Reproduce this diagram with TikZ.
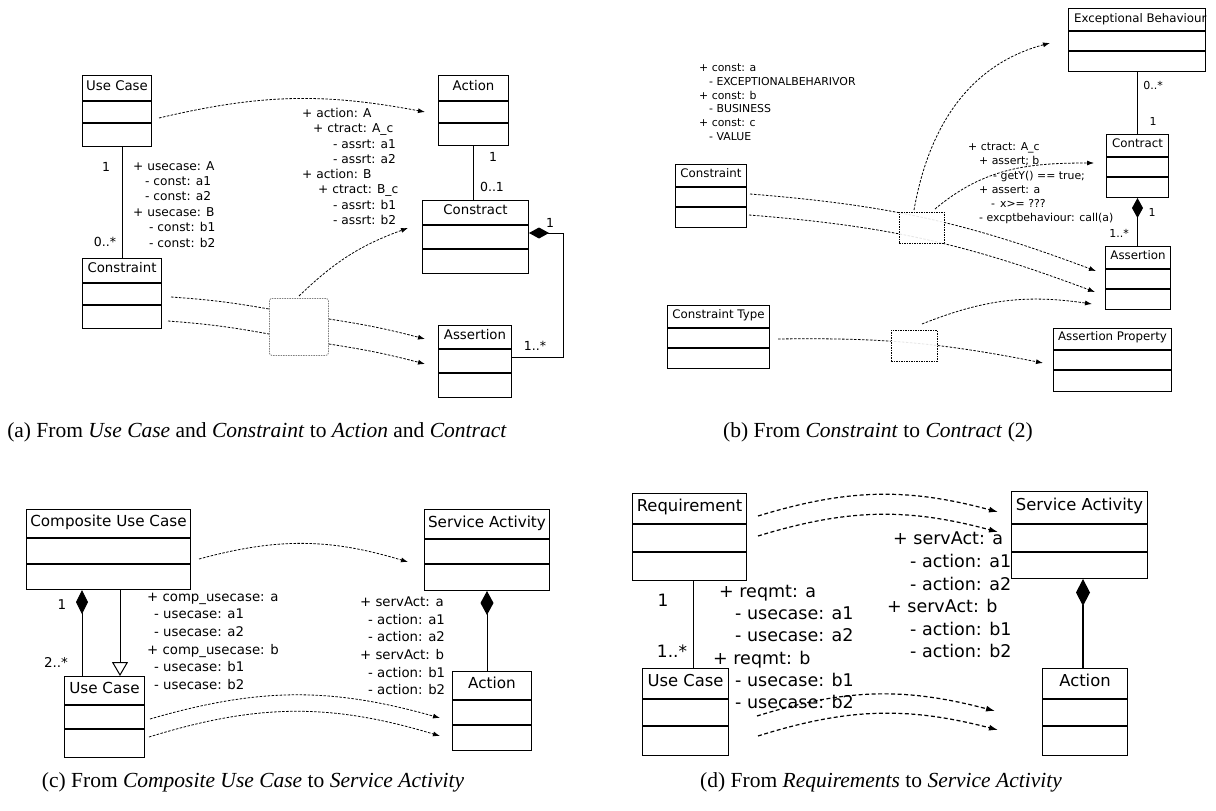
\documentclass[tikz,border=0pt]{standalone}
\usepackage{fontspec}
\setmainfont{DejaVu Sans}
\newfontfamily\capfont{Liberation Serif}
\usetikzlibrary{arrows.meta}

% UML class: name, top-left corner, width, height, first rule, second rule, title size, title, rule width
\newcommand{\umlclass}[9]{%
  \node[umlbox, minimum width=#3, minimum height=#4, anchor=north west] (#1) at (#2) {};
  \draw[line width=#9] ([yshift=-#5]#1.north west) -- ([yshift=-#5]#1.north east);
  \draw[line width=#9] ([yshift=-#6]#1.north west) -- ([yshift=-#6]#1.north east);
  \node[umltitle, font=\fontsize{#7}{#7}\selectfont] (#1-title) at ([yshift=-#5/2-0.365*#7+2.5]#1.north) {#8};
}

\begin{document}
\begin{tikzpicture}[x=1pt, y=-1pt,
    umlbox/.style={draw, line width=1pt, inner sep=0pt},
    umltitle/.style={anchor=base, inner sep=0pt},
    attr/.style={anchor=north west, align=left, inner sep=0pt},
    mult/.style={inner sep=0pt},
    link/.style={dash pattern=on 2.5pt off 1.5pt, line width=0.8pt},
    flow/.style={link, -{Latex[length=7pt,width=5pt]}},
    flowd/.style={dash pattern=on 4pt off 2.5pt, line width=1.2pt, -{Latex[length=9pt,width=6pt]}},
    joinbox/.style={draw=gray, dash pattern=on 1.5pt off 1pt, line width=0.8pt, rounded corners=2.5pt, fill=white, inner sep=0pt, anchor=north west},
    passbox/.style={draw, dash pattern=on 1.5pt off 1pt, line width=0.8pt, fill=white, fill opacity=0.9, inner sep=0pt, anchor=north west},
    compo/.style={line width=1pt, {Diamond[length=20pt,width=11pt]}-},
    gen/.style={line width=1pt, -{Triangle[open,length=14pt,width=16pt]}},
    caption/.style={font=\capfont\fontsize{21.5}{24}\selectfont, inner sep=0pt}
]
    \useasboundingbox[fill=white] (0,0) rectangle (1216,811);

    % (a) Use Case and Constraint to Action and Contract
    \umlclass{a-uc}{82,75}{69}{71}{26}{48}{13.3}{Use Case}{1.8pt}
    \umlclass{a-con}{82,258}{79}{70}{25}{47}{13.3}{Constraint}{1.8pt}
    \umlclass{a-act}{438,75}{70}{70}{26}{48}{13.3}{Action}{1.8pt}
    \umlclass{a-ctr}{422,200}{106}{73}{25}{49}{13.3}{Constract}{1.8pt}
    \umlclass{a-as}{438,325}{73}{72}{24}{48}{13.3}{Assertion}{1.8pt}

    \draw[line width=1pt] (a-con.north) -- (a-con.north |- a-uc.south);
    \draw[line width=1pt] (a-act.south) -- (a-act.south |- a-ctr.north);
    \coordinate (a-bend) at (563,233);
    \draw[compo] (a-bend -| a-ctr.east) -- (a-bend) |- ([yshift=4]a-as.east);

    \node[mult, font=\fontsize{12.5}{12.5}\selectfont] (a-m1) at (106,167) {1};
    \node[mult, font=\fontsize{12.5}{12.5}\selectfont] (a-m2) at (105,242) {0..*};
    \node[mult, font=\fontsize{12.5}{12.5}\selectfont] (a-m3) at (493,157) {1};
    \node[mult, font=\fontsize{12.5}{12.5}\selectfont] (a-m4) at (492,187) {0..1};
    \node[mult, font=\fontsize{12.5}{12.5}\selectfont] (a-m5) at (550,223) {1};
    \node[mult, font=\fontsize{12.5}{12.5}\selectfont] (a-m6) at (535,346) {1..*};

    \node[attr, font=\fontsize{12.2}{15.4}\selectfont] (a-map-uc) at (133,161)
        {+ usecase: A\\\hspace*{12pt}- const: a1\\\hspace*{12pt}- const: a2\\+ usecase: B\\\hspace*{16pt}- const: b1\\\hspace*{16pt}- const: b2};
    \node[attr, font=\fontsize{12.2}{15.3}\selectfont] (a-map-act) at (302,108)
        {+ action: A\\\hspace*{11pt}+ ctract: A\_c\\\hspace*{31pt}- assrt: a1\\\hspace*{31pt}- assrt: a2\\+ action: B\\\hspace*{16pt}+ ctract: B\_c\\\hspace*{31pt}- assrt: b1\\\hspace*{31pt}- assrt: b2};

    \node[joinbox, minimum width=59, minimum height=57] (a-join) at (269,298) {};
    \coordinate (a-uc-o) at (159,118);
    \coordinate (a-act-i) at (425,112);
    \coordinate (a-con-o1) at (171,297);
    \coordinate (a-con-o2) at (168,321);
    \coordinate (a-as-i1) at (425,339);
    \coordinate (a-as-i2) at (425,364);
    \coordinate (a-ctr-i) at (408,228);
    \draw[flow] (a-uc-o) to[bend left=12] (a-act-i);
    \draw[link] (a-con-o1) to[bend left=3] ([yshift=-11]a-join.north west);
    \draw[link] (a-con-o2) to[bend left=3] ([yshift=-36]a-join.north west);
    \draw[flow] ([yshift=-21]a-join.north east) to[bend left=3] (a-as-i1);
    \draw[flow] ([yshift=-46]a-join.north east) to[bend left=3] (a-as-i2);
    \draw[flow] ([xshift=30,yshift=2]a-join.north west) to[bend left=12] (a-ctr-i);

    \node[caption] (a-cap) at (257,432) {(a) From \textit{Use Case} and \textit{Constraint} to \textit{Action} and \textit{Contract}};

    % (b) Constraint to Contract
    \umlclass{b-con}{675,164}{71}{63}{23}{43}{11.8}{Constraint}{1.8pt}
    \umlclass{b-eb}{1068,8}{137}{63}{23}{43}{11.8}{}{1.8pt}
    \begin{scope}
        \clip (b-eb.south west) rectangle (b-eb.north east);
        \node[anchor=base west, inner sep=0pt, font=\fontsize{11.8}{11.8}\selectfont] (b-eb-name) at ([xshift=6,yshift=-14]b-eb.north west) {Exceptional Behaviour};
    \end{scope}
    \umlclass{b-ct}{1106,134}{62}{63}{23}{43}{11.8}{Contract}{1.8pt}
    \umlclass{b-as}{1105,246}{65}{63}{23}{43}{11.8}{Assertion}{1.8pt}
    \umlclass{b-ap}{1053,328}{118}{63}{22}{42}{11.8}{Assertion Property}{1.8pt}
    \umlclass{b-cty}{667,305}{102}{63}{23}{43}{11.8}{Constraint Type}{1.8pt}

    \draw[line width=1pt] (b-ct.north) -- (b-ct.north |- b-eb.south);
    \draw[compo] (b-ct.south) -- (b-ct.south |- b-as.north);

    \node[mult, font=\fontsize{11}{11}\selectfont] (b-m1) at (1153,85) {0..*};
    \node[mult, font=\fontsize{11}{11}\selectfont] (b-m2) at (1153,121) {1};
    \node[mult, font=\fontsize{11}{11}\selectfont] (b-m3) at (1152,212) {1};
    \node[mult, font=\fontsize{11}{11}\selectfont] (b-m4) at (1119,233) {1..*};

    \node[attr, font=\fontsize{10.9}{13.8}\selectfont] (b-map-con) at (699,63.6)
        {+ const: a\\\hspace*{10pt}- EXCEPTIONALBEHARIVOR\\+ const: b\\\hspace*{10pt}- BUSINESS\\+ const: c\\\hspace*{10pt}- VALUE};
    \node[attr, font=\fontsize{10.9}{14.2}\selectfont] (b-map-ct) at (968,142.6)
        {+ ctract: A\_c\\\hspace*{11pt}+ assert; b\\\hspace*{25pt}- getY() == true;\\\hspace*{11pt}+ assert: a\\\hspace*{23pt}-\hspace*{5pt}x>= ???\\\hspace*{11pt}- excptbehaviour: call(a)};

    \coordinate (b-con-o1) at (750,194);
    \coordinate (b-con-o2) at (749,215);
    \coordinate (b-as-i1) at (1096,271);
    \coordinate (b-as-i2) at (1095,292);
    \coordinate (b-as-i3) at (1092,304);
    \coordinate (b-cty-o) at (778,339);
    \coordinate (b-ap-i) at (1043,363);
    \coordinate (b-eb-i) at (1050,43);
    \coordinate (b-ct-i) at (1094,163);
    \draw[flow] (b-con-o1) to[bend left=8] (b-as-i1);
    \draw[flow] (b-con-o2) to[bend left=8] (b-as-i2);
    \draw[flow] (b-cty-o) to[bend left=6] (b-ap-i);
    \node[passbox, minimum width=45, minimum height=31] (b-join1) at (899,212) {};
    \node[passbox, minimum width=46, minimum height=31] (b-join2) at (891,330) {};
    \draw[flow] ([xshift=15,yshift=2]b-join1.north west) to[out=80,in=195] (b-eb-i);
    \draw[flow] ([xshift=36,yshift=3]b-join1.north west) to[out=40,in=180] (b-ct-i);
    \draw[flow] ([xshift=31,yshift=6]b-join2.north west) to[bend left=15] (b-as-i3);

    \node[caption] (b-cap) at (878,432) {(b) From \textit{Constraint} to \textit{Contract} (2)};

    % (c) Composite Use Case to Service Activity
    \umlclass{c-cuc}{26,509}{164}{80}{29}{55}{15.2}{Composite Use Case}{1.8pt}
    \umlclass{c-uc}{64,676}{80}{81}{29}{53}{15.2}{Use Case}{1.8pt}
    \umlclass{c-sa}{424,509}{125}{81}{30}{55}{15.2}{Service Activity}{1.8pt}
    \umlclass{c-act}{452,671}{79}{79}{29}{54}{15.2}{Action}{1.8pt}

    \coordinate (c-part) at ([xshift=18]c-uc.north west);
    \coordinate (c-kind) at ([xshift=56]c-uc.north west);
    \draw[line width=1pt, {Diamond[length=24pt,width=12pt]}-] (c-part |- c-cuc.south) -- (c-part);
    \draw[gen] (c-kind |- c-cuc.south) -- (c-kind);
    \draw[line width=1pt, {Diamond[length=24pt,width=13pt]}-] (c-sa.south) -- (c-sa.south |- c-act.north);

    \node[mult, font=\fontsize{13.5}{13.5}\selectfont] (c-m1) at (62,605) {1};
    \node[mult, font=\fontsize{13.5}{13.5}\selectfont] (c-m2) at (56,662) {2..*};

    \node[attr, font=\fontsize{13.3}{17.6}\selectfont] (c-map-uc) at (147,592.7)
        {+ comp\_usecase: a\\\hspace*{7pt}- usecase: a1\\\hspace*{7pt}- usecase: a2\\+ comp\_usecase: b\\\hspace*{7pt}- usecase: b1\\\hspace*{7pt}- usecase: b2};
    \node[attr, font=\fontsize{13.3}{17.6}\selectfont] (c-map-sa) at (360,596.7)
        {+ servAct: a\\\hspace*{8pt}- action: a1\\\hspace*{8pt}- action: a2\\+ servAct: b\\\hspace*{8pt}- action: b1\\\hspace*{8pt}- action: b2};

    \coordinate (c-cuc-o) at (199,559);
    \coordinate (c-sa-i) at (408,562);
    \coordinate (c-uc-o1) at (150,719);
    \coordinate (c-act-i1) at (440,718);
    \coordinate (c-uc-o2) at (149,737);
    \coordinate (c-act-i2) at (440,736);
    \draw[flow] (c-cuc-o) to[bend left=16] (c-sa-i);
    \draw[flow] (c-uc-o1) to[bend left=16] (c-act-i1);
    \draw[flow] (c-uc-o2) to[bend left=17] (c-act-i2);

    \node[caption] (c-cap) at (253,782) {(c) From \textit{Composite Use Case} to \textit{Service Activity}};

    % (d) Requirements to Service Activity
    \umlclass{d-req}{632,493}{114}{87}{31}{59}{16.4}{Requirement}{2pt}
    \umlclass{d-uc}{642,668}{86}{87}{31}{58}{16.4}{Use Case}{2pt}
    \umlclass{d-sa}{1011,491}{136}{87}{33}{61}{16.4}{Service Activity}{2pt}
    \umlclass{d-act}{1042,668}{85}{87}{31}{58}{16.4}{Action}{2pt}

    \coordinate (d-link) at ([xshift=61]d-req.south west);
    \coordinate (d-own) at ([xshift=72]d-sa.south west);
    \draw[line width=1pt] (d-link) -- (d-link |- d-uc.north);
    \draw[line width=1.2pt, {Diamond[length=27pt,width=14pt]}-] (d-own) -- (d-own |- d-act.north);

    \node[mult, font=\fontsize{17}{17}\selectfont] (d-m1) at (663,600) {1};
    \node[mult, font=\fontsize{17}{17}\selectfont] (d-m2) at (672,651) {1..*};

    \node[attr, font=\fontsize{17.5}{22.2}\selectfont] (d-map-uc) at (713,585)
        {\hspace*{6pt}+ reqmt: a\\\hspace*{22pt}- usecase: a1\\\hspace*{22pt}- usecase: a2\\+ reqmt: b\\\hspace*{22pt}- usecase: b1\\\hspace*{22pt}- usecase: b2};
    \node[attr, font=\fontsize{17.5}{22.6}\selectfont] (d-map-sa) at (887,532)
        {\hspace*{6pt}+ servAct: a\\\hspace*{23pt}- action: a1\\\hspace*{23pt}- action: a2\\+ servAct: b\\\hspace*{23pt}- action: b1\\\hspace*{23pt}- action: b2};

    \coordinate (d-req-o1) at (758,516);
    \coordinate (d-sa-i1) at (998,512);
    \coordinate (d-req-o2) at (758,536);
    \coordinate (d-sa-i2) at (998,532);
    \coordinate (d-uc-o1) at (757,716);
    \coordinate (d-act-i1) at (995,711);
    \coordinate (d-uc-o2) at (758,736);
    \coordinate (d-act-i2) at (998,730);
    \draw[flowd] (d-req-o1) to[bend left=16] (d-sa-i1);
    \draw[flowd] (d-req-o2) to[bend left=16] (d-sa-i2);
    \draw[flowd] (d-uc-o1) to[bend left=16] (d-act-i1);
    \draw[flowd] (d-uc-o2) to[bend left=16] (d-act-i2);

    \node[caption] (d-cap) at (881,782) {(d) From \textit{Requirements} to \textit{Service Activity}};
\end{tikzpicture}
\end{document}
